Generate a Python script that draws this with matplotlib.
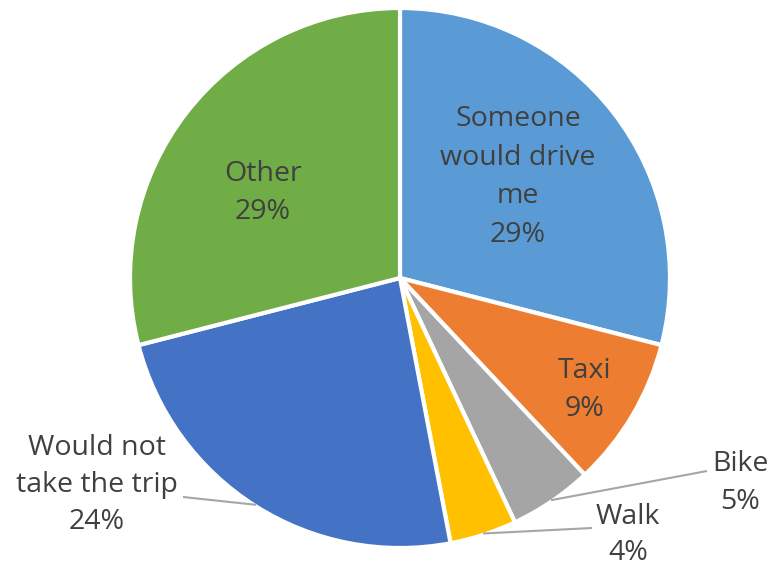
import numpy as np
import matplotlib
matplotlib.use("Agg")
import matplotlib.pyplot as plt

categories = ["Someone\nwould drive\nme", "Taxi", "Bike", "Walk", "Would not\ntake the trip", "Other"]
values = [29, 9, 5, 4, 24, 29]
colors = ["#5B9BD5", "#ED7D31", "#A5A5A5", "#FFC000", "#4472C4", "#70AD47"]

W, H = 767, 569
fig = plt.figure(figsize=(W / 100, H / 100), dpi=100)
ax = fig.add_axes([0, 0, 1, 1])
ax.set_xlim(0, W)
ax.set_ylim(0, H)
ax.set_aspect("equal")
ax.axis("off")

cx, cy, R = 400, H - 278, 270
wedges, _ = ax.pie(values, colors=colors, startangle=90, counterclock=False,
                   center=(cx, cy), radius=R,
                   wedgeprops=dict(edgecolor="white", linewidth=3))
ax.set_xlim(0, W)
ax.set_ylim(0, H)

txtc = "#404040"
fs = 20.5
font = ["Open Sans", "DejaVu Sans"]

# label positions (pixel coords, y from top), inside or outside
label_pos = [(518, 177), (585, 390), (740, 483), (628, 535), (97, 485), (263, 193)]
spacing = [1.52, 1.52, 1.45, 1.42, 1.45, 1.52]
outside = [False, False, True, True, True, False]
leader_end = [None, None, (707, 471), (592, 528), (183, 497)]

for i, (w, lab, v) in enumerate(zip(wedges, categories, values)):
    text = f"{lab}\n{v}%"
    x, y = label_pos[i]
    ax.text(x, H - y, text, ha="center", va="center", fontsize=fs, color=txtc,
            family=font, linespacing=spacing[i])
    if outside[i]:
        ang = np.deg2rad((w.theta1 + w.theta2) / 2)
        sx, sy = cx + R * 0.995 * np.cos(ang), cy + R * 0.995 * np.sin(ang)
        ex, ey = leader_end[i]
        ax.plot([sx, ex], [sy, H - ey], color="#A6A6A6", lw=1.5, solid_capstyle="butt")

fig.savefig("out.png", dpi=100)
